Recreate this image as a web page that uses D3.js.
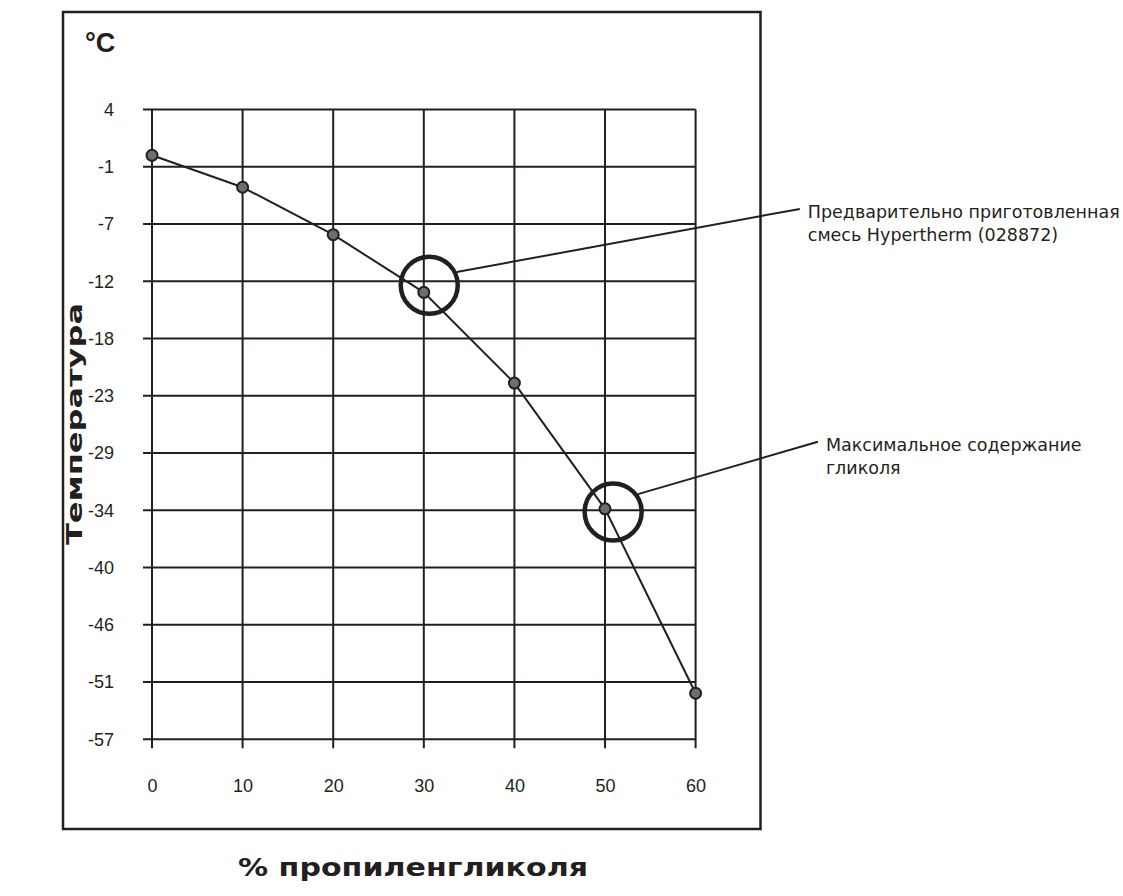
<!DOCTYPE html>
<html>
<head>
<meta charset="utf-8">
<script src="https://cdn.jsdelivr.net/npm/d3@7"></script>
<style>
  body { margin: 0; background: #fff; }
  svg { display: block; font-family: "DejaVu Sans", "Liberation Sans", Arial, sans-serif; }
</style>
</head>
<body>
<svg id="chart" width="1123" height="896"></svg>
<script>
// glycol concentration (%) and freezing point (°C)
const glycolPct = [0, 10, 20, 30, 40, 50, 60];
const freezeC = [0, -3.1, -7.7, -13.3, -22.1, -34.3, -52.2];

// y ticks are evenly spaced in °F, labelled in °C
const tempTicksF = [40, 30, 20, 10, 0, -10, -20, -30, -40, -50, -60, -70];
const tempTickLabels = ["4", "-1", "-7", "-12", "-18", "-23", "-29", "-34", "-40", "-46", "-51", "-57"];

// callouts: circle centre (pct, °C), leader end (pct, °C), text lines
const calloutPct = [30.6, 50.9];
const calloutC = [-12.6, -34.6];
const calloutEndPct = [71.5, 73.5];
const calloutEndC = [-5.2, -27.8];
const calloutText = [
    ["Предварительно приготовленная", "смесь Hypertherm (028872)"],
    ["Максимальное содержание", "гликоля"]
];

const toF = c => c * 9 / 5 + 32;
const ink = "#231f20";

const svg = d3.select("#chart");

const x = d3.scaleLinear().domain([0, 60]).range([152, 695.6]);
const y = d3.scaleLinear().domain([-70, 40]).range([739.3, 109.5]);

// outer frame
svg.append("rect")
    .attr("x", 63).attr("y", 12)
    .attr("width", 697.5).attr("height", 817)
    .attr("fill", "none")
    .attr("stroke", ink)
    .attr("stroke-width", 2.5);

// grid
svg.append("g").selectAll("line")
    .data(tempTicksF)
    .join("line")
    .attr("x1", x(0) - 9).attr("x2", x(60))
    .attr("y1", d => y(d)).attr("y2", d => y(d))
    .attr("stroke", ink).attr("stroke-width", 2);

svg.append("g").selectAll("line")
    .data(glycolPct)
    .join("line")
    .attr("x1", d => x(d)).attr("x2", d => x(d))
    .attr("y1", y(40)).attr("y2", y(-70) + 9)
    .attr("stroke", ink).attr("stroke-width", 2);

// axis labels
const yAxis = svg.append("g")
    .attr("transform", "translate(" + x(0) + ",0)")
    .call(d3.axisLeft(y).tickValues(tempTicksF)
        .tickFormat((d, i) => tempTickLabels[i])
        .tickSize(0).tickPadding(38));
const xAxis = svg.append("g")
    .attr("transform", "translate(0," + y(-70) + ")")
    .call(d3.axisBottom(x).tickValues(glycolPct).tickSize(0).tickPadding(40));

[yAxis, xAxis].forEach(a => {
    a.select(".domain").remove();
    a.selectAll("text")
        .attr("font-family", null)
        .attr("font-size", 18)
        .attr("fill", ink);
});

// unit + titles
svg.append("text")
    .attr("x", 85).attr("y", 52)
    .attr("font-family", "'Liberation Sans', Arial, sans-serif")
    .attr("font-size", 27).attr("font-weight", "bold")
    .attr("fill", ink)
    .text("°C");

svg.append("text")
    .attr("transform", "translate(82,424) rotate(-90)")
    .attr("text-anchor", "middle")
    .attr("font-size", 22).attr("font-weight", "bold")
    .attr("textLength", 242).attr("lengthAdjust", "spacingAndGlyphs")
    .attr("fill", ink)
    .text("Температура");

svg.append("text")
    .attr("x", 413).attr("y", 876)
    .attr("text-anchor", "middle")
    .attr("font-size", 25).attr("font-weight", "bold")
    .attr("textLength", 350).attr("lengthAdjust", "spacingAndGlyphs")
    .attr("fill", ink)
    .text("% пропиленгликоля");

// freezing curve
const line = d3.line()
    .x((d, i) => x(glycolPct[i]))
    .y(d => y(toF(d)));

svg.append("path")
    .datum(freezeC)
    .attr("d", line)
    .attr("fill", "none")
    .attr("stroke", ink)
    .attr("stroke-width", 2);

svg.append("g").selectAll("circle")
    .data(freezeC)
    .join("circle")
    .attr("cx", (d, i) => x(glycolPct[i]))
    .attr("cy", d => y(toF(d)))
    .attr("r", 5.5)
    .attr("fill", "#6d6e71")
    .attr("stroke", ink)
    .attr("stroke-width", 2);

// callouts
const leaderAngle = [-25.5, -35.6];
calloutPct.forEach((p, i) => {
    const cx = x(p), cy = y(toF(calloutC[i]));
    const ex = x(calloutEndPct[i]), ey = y(toF(calloutEndC[i]));
    const r = 28.5;
    const a = leaderAngle[i] * Math.PI / 180;

    svg.append("circle")
        .attr("cx", cx).attr("cy", cy).attr("r", r)
        .attr("fill", "none")
        .attr("stroke", ink)
        .attr("stroke-width", 4.5);

    svg.append("line")
        .attr("x1", cx + (r + 2) * Math.cos(a))
        .attr("y1", cy + (r + 2) * Math.sin(a))
        .attr("x2", ex).attr("y2", ey)
        .attr("stroke", ink)
        .attr("stroke-width", 2);

    const t = svg.append("text")
        .attr("x", ex + 8).attr("y", ey + 9)
        .attr("font-size", 17.5)
        .attr("fill", ink);
    t.selectAll("tspan")
        .data(calloutText[i])
        .join("tspan")
        .attr("x", ex + 8)
        .attr("dy", (d, j) => j === 0 ? 0 : 23)
        .text(d => d);
});
</script>
</body>
</html>
